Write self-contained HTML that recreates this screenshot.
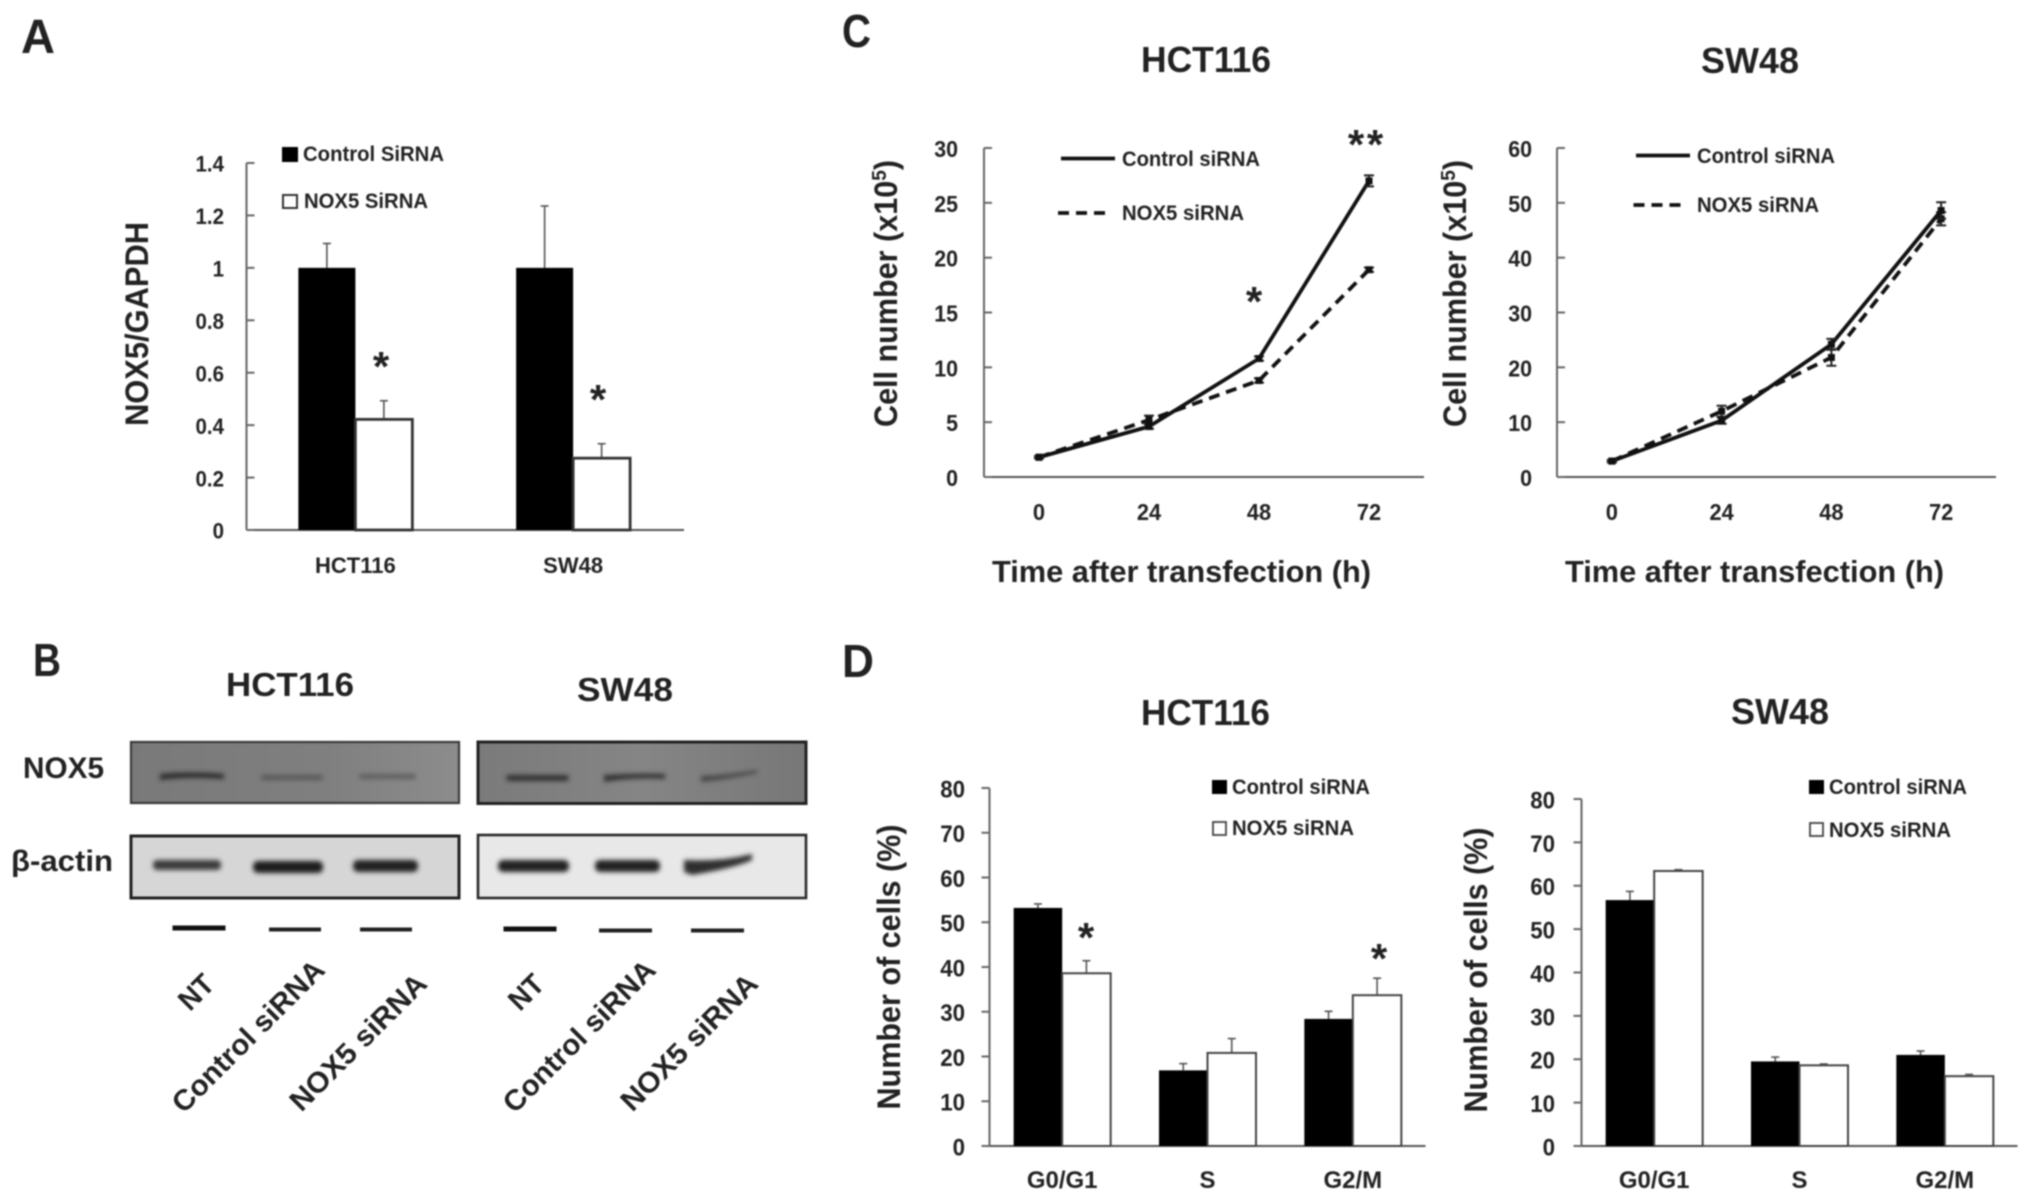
<!DOCTYPE html>
<html lang="en">
<head>
<meta charset="utf-8">
<title>NOX5 siRNA figure</title>
<style>
html,body{margin:0;padding:0;background:#fff;overflow:hidden}
#figure{display:block;filter:blur(0.8px)}
text{font-family:"Liberation Sans",sans-serif;font-weight:bold;fill:#222}
</style>
</head>
<body>
<svg id="figure" xmlns="http://www.w3.org/2000/svg" width="2031" height="1204" viewBox="0 0 2031 1204">
<defs>
<filter id="band-blur" x="-20%" y="-120%" width="140%" height="340%"><feGaussianBlur stdDeviation="2.4"/></filter>
<linearGradient id="nox5-left-fill" x1="0" x2="1" y1="0" y2="0"><stop offset="0" stop-color="#797979"/><stop offset="0.6" stop-color="#7f7f7f"/><stop offset="1" stop-color="#8c8c8c"/></linearGradient>
<linearGradient id="nox5-right-fill" x1="0" x2="1" y1="0" y2="0"><stop offset="0" stop-color="#7a7a7a"/><stop offset="0.5" stop-color="#858585"/><stop offset="1" stop-color="#777"/></linearGradient>
</defs>
<rect width="2031" height="1204" fill="#fff"/>

<!-- Panel letters -->
<text x="21" y="53" font-size="48" textLength="34" lengthAdjust="spacingAndGlyphs">A</text>
<text x="33" y="676" font-size="46" textLength="28" lengthAdjust="spacingAndGlyphs">B</text>
<text x="842" y="47" font-size="46" textLength="29" lengthAdjust="spacingAndGlyphs">C</text>
<text x="842" y="677" font-size="46" textLength="32" lengthAdjust="spacingAndGlyphs">D</text>

<!-- Panel A static -->
<g>
<text transform="rotate(-90 148 324)" x="148" y="324" text-anchor="middle" font-size="32" textLength="204" lengthAdjust="spacingAndGlyphs">NOX5/GAPDH</text>
<rect x="282" y="147" width="16" height="15" fill="#000"/>
<text x="303" y="161" font-size="21" textLength="141" lengthAdjust="spacingAndGlyphs">Control SiRNA</text>
<rect x="283" y="195" width="14" height="13" fill="#fff" stroke="#333" stroke-width="2"/>
<text x="304" y="208" font-size="21" textLength="124" lengthAdjust="spacingAndGlyphs">NOX5 SiRNA</text>
<text x="381" y="381" text-anchor="middle" font-size="42">*</text>
<text x="598" y="414" text-anchor="middle" font-size="42">*</text>
</g>

<!-- Panel B western blot -->
<g>
<text x="226" y="696" font-size="33" textLength="128" lengthAdjust="spacingAndGlyphs">HCT116</text>
<text x="577" y="701" font-size="33" textLength="96" lengthAdjust="spacingAndGlyphs">SW48</text>
<text x="23" y="778" font-size="30" textLength="81" lengthAdjust="spacingAndGlyphs">NOX5</text>
<text x="11" y="871" font-size="30" textLength="102" lengthAdjust="spacingAndGlyphs">β-actin</text>

<rect x="131" y="742" width="328" height="61" fill="url(#nox5-left-fill)" stroke="#3a3a3a" stroke-width="2.2"/>
<rect x="478" y="742" width="328" height="61.5" fill="url(#nox5-right-fill)" stroke="#222" stroke-width="3"/>
<rect x="131" y="836" width="328" height="62" fill="#d6d6d6" stroke="#222" stroke-width="3"/>
<rect x="478" y="835" width="328" height="63" fill="#e8e8e8" stroke="#2a2a2a" stroke-width="2.6"/>

<g filter="url(#band-blur)">
<path d="M160 774 Q190 771 224 774 L224 779 Q190 776 160 780 Z" fill="#2c2c2c"/>
<rect x="261" y="775" width="62" height="5" rx="2" fill="#585858"/>
<rect x="359" y="774" width="57" height="5" rx="2" fill="#5e5e5e"/>
<rect x="506" y="775" width="63" height="6" rx="3" fill="#333"/>
<path d="M604 775 Q635 773 665 774 L665 779 Q635 777 604 782 Z" fill="#333"/>
<path d="M701 776 Q730 775 757 770 L757 773 Q730 779 701 782 Z" fill="#454545"/>
<rect x="153" y="860" width="68" height="10" rx="4" fill="#3a3a3a"/>
<rect x="253" y="861" width="70" height="12" rx="5" fill="#1a1a1a"/>
<rect x="353" y="860" width="65" height="12" rx="5" fill="#222"/>
<rect x="498" y="860" width="71" height="12" rx="5" fill="#222"/>
<rect x="595" y="860" width="65" height="12" rx="5" fill="#222"/>
<path d="M684 860 Q720 862 752 854 L752 860 Q735 868 692 875 L684 872 Z" fill="#2e2e2e"/>
</g>

<rect x="172.5" y="925.5" width="53" height="5" fill="#111"/>
<rect x="269" y="927.5" width="52" height="4" fill="#222"/>
<rect x="360" y="927.5" width="52" height="4" fill="#222"/>
<rect x="503.5" y="926.5" width="53" height="5" fill="#111"/>
<rect x="599" y="928.5" width="53" height="4" fill="#222"/>
<rect x="691" y="928.5" width="53" height="4" fill="#222"/>

<text transform="rotate(-45 196 992)" x="196" y="1002" text-anchor="middle" font-size="29" textLength="37" lengthAdjust="spacingAndGlyphs">NT</text>
<text transform="rotate(-45 248 1036)" x="248" y="1046" text-anchor="middle" font-size="29" textLength="202" lengthAdjust="spacingAndGlyphs">Control siRNA</text>
<text transform="rotate(-45 358 1042)" x="358" y="1052" text-anchor="middle" font-size="29" textLength="180" lengthAdjust="spacingAndGlyphs">NOX5 siRNA</text>
<text transform="rotate(-45 526 992)" x="526" y="1002" text-anchor="middle" font-size="29" textLength="37" lengthAdjust="spacingAndGlyphs">NT</text>
<text transform="rotate(-45 579 1036)" x="579" y="1046" text-anchor="middle" font-size="29" textLength="202" lengthAdjust="spacingAndGlyphs">Control siRNA</text>
<text transform="rotate(-45 689 1042)" x="689" y="1052" text-anchor="middle" font-size="29" textLength="180" lengthAdjust="spacingAndGlyphs">NOX5 siRNA</text>
</g>

<!-- Panel C static -->
<g>
<text x="1141" y="72" font-size="36" textLength="130" lengthAdjust="spacingAndGlyphs">HCT116</text>
<text transform="rotate(-90 897 293.5)" x="897" y="293.5" text-anchor="middle" font-size="32" textLength="267" lengthAdjust="spacingAndGlyphs">Cell number (x10<tspan font-size="20" dy="-11">5</tspan><tspan dy="11">)</tspan></text>
<text x="992" y="582" font-size="31" textLength="379" lengthAdjust="spacingAndGlyphs">Time after transfection (h)</text>
<line x1="1061" x2="1115" y1="158.5" y2="158.5" stroke="#111" stroke-width="3.8"/>
<text x="1122" y="166" font-size="21" textLength="138" lengthAdjust="spacingAndGlyphs">Control siRNA</text>
<line x1="1058" x2="1109" y1="213" y2="213" stroke="#111" stroke-width="3.8" stroke-dasharray="11 7"/>
<text x="1122" y="220" font-size="21" textLength="122" lengthAdjust="spacingAndGlyphs">NOX5 siRNA</text>
<text x="1254" y="316" text-anchor="middle" font-size="42">*</text>
<text x="1356" y="159" text-anchor="middle" font-size="42">*</text>
<text x="1375" y="159" text-anchor="middle" font-size="42">*</text>
</g>
<g>
<text x="1701" y="73" font-size="36" textLength="98" lengthAdjust="spacingAndGlyphs">SW48</text>
<text transform="rotate(-90 1466 293.5)" x="1466" y="293.5" text-anchor="middle" font-size="32" textLength="267" lengthAdjust="spacingAndGlyphs">Cell number (x10<tspan font-size="20" dy="-11">5</tspan><tspan dy="11">)</tspan></text>
<text x="1565" y="582" font-size="31" textLength="379" lengthAdjust="spacingAndGlyphs">Time after transfection (h)</text>
<line x1="1636" x2="1690" y1="155.5" y2="155.5" stroke="#111" stroke-width="3.8"/>
<text x="1697" y="163" font-size="21" textLength="138" lengthAdjust="spacingAndGlyphs">Control siRNA</text>
<line x1="1633.5" x2="1685" y1="205" y2="205" stroke="#111" stroke-width="3.8" stroke-dasharray="11 7"/>
<text x="1697" y="212" font-size="21" textLength="122" lengthAdjust="spacingAndGlyphs">NOX5 siRNA</text>
</g>

<!-- Panel D static -->
<g>
<text x="1141" y="725" font-size="36" textLength="129" lengthAdjust="spacingAndGlyphs">HCT116</text>
<text transform="rotate(-90 900 967)" x="900" y="967" text-anchor="middle" font-size="32" textLength="285" lengthAdjust="spacingAndGlyphs">Number of cells (%)</text>
<rect x="1212" y="780" width="15" height="14" fill="#000"/>
<text x="1232" y="794" font-size="21" textLength="138" lengthAdjust="spacingAndGlyphs">Control siRNA</text>
<rect x="1213" y="822" width="13" height="13" fill="#fff" stroke="#444" stroke-width="1.8"/>
<text x="1232" y="835" font-size="21" textLength="122" lengthAdjust="spacingAndGlyphs">NOX5 siRNA</text>
<text x="1086" y="952" text-anchor="middle" font-size="42">*</text>
<text x="1379" y="973" text-anchor="middle" font-size="42">*</text>
</g>
<g>
<text x="1731" y="724" font-size="36" textLength="98" lengthAdjust="spacingAndGlyphs">SW48</text>
<text transform="rotate(-90 1487 970)" x="1487" y="970" text-anchor="middle" font-size="32" textLength="285" lengthAdjust="spacingAndGlyphs">Number of cells (%)</text>
<rect x="1809" y="780" width="15" height="14" fill="#000"/>
<text x="1829" y="794" font-size="21" textLength="138" lengthAdjust="spacingAndGlyphs">Control siRNA</text>
<rect x="1810" y="823" width="13" height="13" fill="#fff" stroke="#444" stroke-width="1.8"/>
<text x="1829" y="837" font-size="21" textLength="122" lengthAdjust="spacingAndGlyphs">NOX5 siRNA</text>
</g>

<g id="charts"></g>
</svg>

<script>
// Panel A
const aCategories = ['HCT116', 'SW48'];
const aTicks = ['0', '0.2', '0.4', '0.6', '0.8', '1', '1.2', '1.4'];
const aControl = [1, 1];
const aControlErr = [0.093, 0.236];
const aNox5 = [0.422, 0.274];
const aNox5Err = [0.071, 0.055];

// Panel C HCT116
const cHctHours = ['0', '24', '48', '72'];
const cHctTicks = ['0', '5', '10', '15', '20', '25', '30'];
const cHctControl = [1.8, 4.6, 10.8, 27.0];
const cHctControlErr = [0.1, 0.2, 0.2, 0.5];
const cHctNox5 = [1.8, 5.2, 8.8, 18.9];
const cHctNox5Err = [0.1, 0.4, 0.2, 0.2];

// Panel C SW48
const cSwHours = ['0', '24', '48', '72'];
const cSwTicks = ['0', '10', '20', '30', '40', '50', '60'];
const cSwControl = [2.9, 10.3, 24.2, 48.6];
const cSwControlErr = [0.2, 0.6, 1.0, 1.5];
const cSwNox5 = [2.9, 12.0, 21.8, 47.1];
const cSwNox5Err = [0.2, 1.0, 1.5, 1.2];

// Panel D HCT116
const dHctPhases = ['G0/G1', 'S', 'G2/M'];
const dHctTicks = ['0', '10', '20', '30', '40', '50', '60', '70', '80'];
const dHctControl = [53.2, 16.9, 28.4];
const dHctControlErr = [0.9, 1.5, 1.7];
const dHctNox5 = [38.6, 20.8, 33.7];
const dHctNox5Err = [2.8, 3.2, 3.8];

// Panel D SW48
const dSwPhases = ['G0/G1', 'S', 'G2/M'];
const dSwTicks = ['0', '10', '20', '30', '40', '50', '60', '70', '80'];
const dSwControl = [56.7, 19.5, 21.0];
const dSwControlErr = [2.0, 1.0, 0.9];
const dSwNox5 = [63.4, 18.6, 16.1];
const dSwNox5Err = [0.3, 0.3, 0.4];

const NS = 'http://www.w3.org/2000/svg';
const root = document.getElementById('charts');

function mk(parent, tag, attrs) {
  const el = document.createElementNS(NS, tag);
  for (const k in attrs) el.setAttribute(k, attrs[k]);
  parent.appendChild(el);
  return el;
}

function label(parent, x, y, str, size, anchor, squeeze) {
  const el = mk(parent, 'text', { x: x, y: y, 'font-size': size, 'text-anchor': anchor });
  el.textContent = str;
  const w = el.getComputedTextLength();
  if (w > 0) {
    el.setAttribute('textLength', (w * squeeze).toFixed(1));
    el.setAttribute('lengthAdjust', 'spacingAndGlyphs');
  }
  return el;
}

function errorBar(parent, x, yTop, yBottom, cap, color, width, name) {
  const stem = mk(parent, 'line', { x1: x, x2: x, y1: yTop, y2: yBottom, stroke: color, 'stroke-width': width });
  
  
  const top = mk(parent, 'line', { x1: x - cap, x2: x + cap, y1: yTop, y2: yTop, stroke: color, 'stroke-width': width });
  
  
}

function drawAxes(g, c, yMax, ticks, cats) {
  const y = v => c.y0 - (v / yMax) * (c.y0 - c.y1);
  const xc = i => c.x0 + (i + 0.5) * (c.x1 - c.x0) / cats.length;
  const yAxis = mk(g, 'line', { x1: c.x0, x2: c.x0, y1: c.y1, y2: c.y0, stroke: '#666', 'stroke-width': 2 });
  
  
  const xAxis = mk(g, 'line', { x1: c.tickOut ? c.x0 - 8 : c.x0, x2: c.x1 + (c.axisExtra || 0), y1: c.y0, y2: c.y0, stroke: '#555', 'stroke-width': 2 });
  
  
  ticks.forEach(t => {
    const v = parseFloat(t);
    const tick = mk(g, 'line', {
      x1: c.tickOut ? c.x0 - 8 : c.x0, x2: c.tickOut ? c.x0 : c.x0 + 8,
      y1: y(v), y2: y(v), stroke: '#666', 'stroke-width': 2
    });
    
    
    const tl = label(g, c.tickRight, y(v) + c.tickFont * 0.35 + 1, t, c.tickFont, 'end', 0.93);
    
    
  });
  cats.forEach((s, i) => {
    const cl = label(g, xc(i), c.catY, s, c.catFont, 'middle', c.catSqueeze);
    
    
  });
  return { y: y, xc: xc };
}

function drawBars(c, yMax, ticks, cats, control, controlErr, nox5, nox5Err) {
  const g = mk(root, 'g', {});
  
  
  const s = drawAxes(g, c, yMax, ticks, cats);
  cats.forEach((cat, i) => {
    const cx = s.xc(i);
    errorBar(g, cx - c.barW / 2, s.y(control[i] + controlErr[i]), s.y(control[i]), 4, '#555', 1.6, c.name + '-control-error');
    errorBar(g, cx + c.barW / 2, s.y(nox5[i] + nox5Err[i]), s.y(nox5[i]), 4, '#555', 1.6, c.name + '-nox5-error');
    const b1 = mk(g, 'rect', { x: cx - c.barW, y: s.y(control[i]), width: c.barW, height: c.y0 - s.y(control[i]), fill: '#000' });
    
    
    const b2 = mk(g, 'rect', { x: cx, y: s.y(nox5[i]), width: c.barW, height: c.y0 - s.y(nox5[i]), fill: '#fff', stroke: c.barStroke, 'stroke-width': c.barStrokeW });
    
    
  });
}

function drawLines(c, yMax, ticks, cats, control, controlErr, nox5, nox5Err) {
  const g = mk(root, 'g', {});
  
  
  const s = drawAxes(g, c, yMax, ticks, cats);
  const series = [
    { key: 'nox5', v: nox5, e: nox5Err, dash: '11 7' },
    { key: 'control', v: control, e: controlErr, dash: 'none' }
  ];
  series.forEach(d => {
    const line = mk(g, 'polyline', {
      points: d.v.map((v, i) => s.xc(i) + ',' + s.y(v)).join(' '),
      fill: 'none', stroke: '#111', 'stroke-width': 3.8, 'stroke-dasharray': d.dash, 'stroke-linejoin': 'round'
    });
    
    
    d.v.forEach((v, i) => {
      const x = s.xc(i);
      const bar = mk(g, 'path', {
        d: 'M' + (x - 5) + ' ' + s.y(v + d.e[i]) + 'H' + (x + 5) + 'M' + x + ' ' + s.y(v + d.e[i]) + 'V' + s.y(v - d.e[i]) + 'M' + (x - 5) + ' ' + s.y(v - d.e[i]) + 'H' + (x + 5),
        fill: 'none', stroke: '#222', 'stroke-width': 2
      });
      
      
      const pt = mk(g, 'rect', { x: x - 3.5, y: s.y(v) - 3.5, width: 7, height: 7, fill: '#111' });
      
      
    });
  });
}

drawBars({ name: 'panel-a', x0: 246.5, x1: 682, axisExtra: 2, y0: 530, y1: 163, tickOut: false, tickRight: 224, tickFont: 22, catY: 573, catFont: 22, catSqueeze: 1, barW: 57, barStroke: '#333', barStrokeW: 2.8 },
  1.4, aTicks, aCategories, aControl, aControlErr, aNox5, aNox5Err);

drawLines({ name: 'panel-c-hct116', x0: 984, x1: 1424, y0: 477, y1: 148, tickOut: false, tickRight: 958, tickFont: 23, catY: 520, catFont: 23, catSqueeze: 0.95 },
  30, cHctTicks, cHctHours, cHctControl, cHctControlErr, cHctNox5, cHctNox5Err);

drawLines({ name: 'panel-c-sw48', x0: 1557, x1: 1996, y0: 477, y1: 148, tickOut: false, tickRight: 1532, tickFont: 23, catY: 520, catFont: 23, catSqueeze: 0.95 },
  60, cSwTicks, cSwHours, cSwControl, cSwControlErr, cSwNox5, cSwNox5Err);

drawBars({ name: 'panel-d-hct116', x0: 989.5, x1: 1425.5, y0: 1146, y1: 788, tickOut: true, tickRight: 965, tickFont: 24, catY: 1188, catFont: 24, catSqueeze: 1, barW: 48.5, barStroke: '#444', barStrokeW: 2 },
  80, dHctTicks, dHctPhases, dHctControl, dHctControlErr, dHctNox5, dHctNox5Err);

drawBars({ name: 'panel-d-sw48', x0: 1581.5, x1: 2017.5, y0: 1146, y1: 799, tickOut: true, tickRight: 1555, tickFont: 24, catY: 1188, catFont: 24, catSqueeze: 1, barW: 48.5, barStroke: '#444', barStrokeW: 2 },
  80, dSwTicks, dSwPhases, dSwControl, dSwControlErr, dSwNox5, dSwNox5Err);
</script>
</body>
</html>
